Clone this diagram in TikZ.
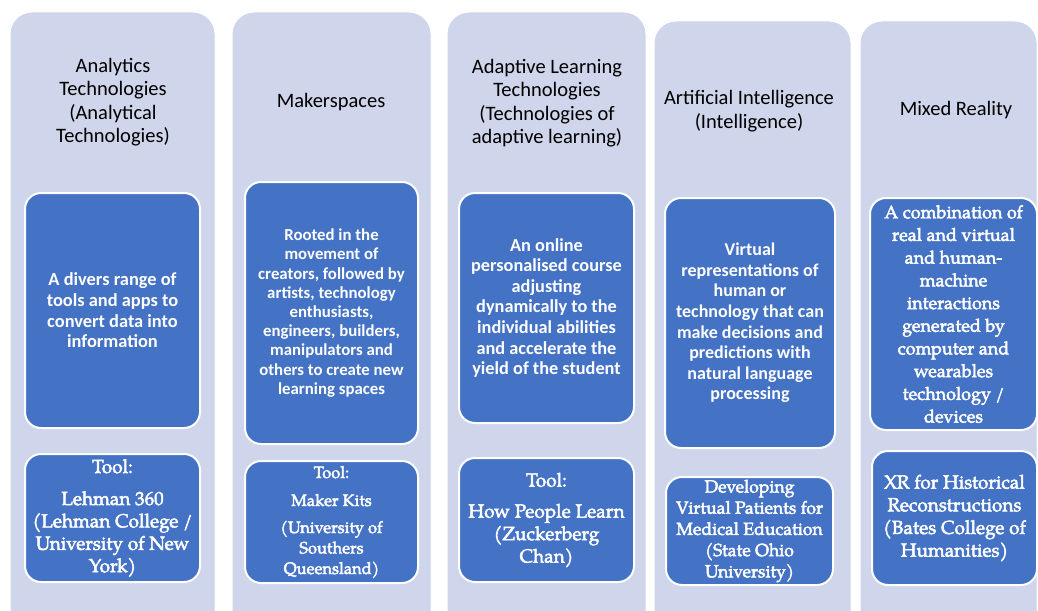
\documentclass[tikz,border=0pt]{standalone}
\usepackage{fontspec}
\setmainfont{Carlito}
\newfontfamily\pal[FakeBold=2.5]{TeX Gyre Pagella}
\definecolor{lav}{HTML}{CFD5EA}
\definecolor{blu}{HTML}{4472C4}
\tikzset{
  col/.style={fill=lav, draw=white, line width=1pt, rounded corners=22pt, inner sep=0pt},
  bluebox/.style={fill=blu, draw=white, line width=2pt, rounded corners=16pt, text=white, align=center, inner sep=0pt},
  ttl/.style={align=center, text=black, inner sep=0pt, font=\fontsize{20.5}{23.5}\selectfont},
}
\begin{document}
\begin{tikzpicture}[x=1pt,y=-1pt]
\useasboundingbox (0,0) rectangle (1038,610);
\clip (0,0) rectangle (1038,610);
% columns
\node[col, minimum width=205pt, minimum height=640pt] (c1) at (112.5,332) {};
\node[col, minimum width=199pt, minimum height=640pt] (c2) at (331.5,332) {};
\node[col, minimum width=199pt, minimum height=640pt] (c3) at (546.5,332) {};
\node[col, minimum width=197pt, minimum height=640pt] (c4) at (752.5,341) {};
\node[col, minimum width=177pt, minimum height=640pt] (c5) at (948.5,341) {};
% titles
\node[ttl] (t1) at (113,102) {Analytics\\Technologies\\(Analytical\\Technologies)};
\node[ttl] (t2) at (331,102) {Makerspaces};
\node[ttl] (t3) at (547,103) {Adaptive Learning\\Technologies\\(Technologies of\\adaptive learning)};
\node[ttl] (t4) at (749,111) {Artificial Intelligence\\(Intelligence)};
\node[ttl] (t5) at (956,110) {Mixed Reality};
% middle boxes
\node[bluebox, minimum width=175pt, minimum height=235pt, font=\bfseries\fontsize{18.4}{20.7}\selectfont] (m1) at (112.5,310.5)
  {A divers range of\\tools and apps to\\convert data into\\information};
\node[bluebox, minimum width=173pt, minimum height=262pt, font=\bfseries\fontsize{16.8}{19.2}\selectfont] (m2) at (331.5,313)
  {Rooted in the\\movement of\\creators, followed by\\artists, technology\\enthusiasts,\\engineers, builders,\\manipulators and\\others to create new\\learning spaces};
\node[bluebox, minimum width=175pt, minimum height=230pt, font=\bfseries\fontsize{18.3}{20.6}\selectfont] (m3) at (546.5,308)
  {An online\\personalised course\\adjusting\\dynamically to the\\individual abilities\\and accelerate the\\yield of the student};
\node[bluebox, minimum width=170pt, minimum height=250pt, font=\bfseries\fontsize{18}{20.6}\selectfont] (m4) at (750,323)
  {Virtual\\representations of\\human or\\technology that can\\make decisions and\\predictions with\\natural language\\processing};
\node[bluebox, minimum width=167pt, minimum height=232pt, font=\pal\fontsize{18}{22.7}\selectfont] (m5) at (953.5,314)
  {A combination of\\real and virtual\\and human-\\machine\\interactions\\generated by\\computer and\\wearables\\technology /\\devices};
% bottom boxes
\node[bluebox, minimum width=175pt, minimum height=128pt, font=\pal\fontsize{19}{22.4}\selectfont] (b1) at (112.5,518)
  {Tool:\\[9.6pt]Lehman 360\\(Lehman College /\\University of New\\York)};
\node[bluebox, minimum width=173pt, minimum height=122pt, font=\pal\fontsize{16.5}{20.5}\selectfont] (b2) at (331.5,522)
  {Tool:\\[7.5pt]Maker Kits\\[6.5pt](University of\\Southers\\Queensland)};
\node[bluebox, minimum width=175pt, minimum height=124pt, font=\pal\fontsize{19}{22.5}\selectfont] (b3) at (546.5,520)
  {Tool:\\[8.5pt]How People Learn\\(Zuckerberg\\Chan)};
\node[bluebox, minimum width=167pt, minimum height=108pt, font=\pal\fontsize{17.6}{21.2}\selectfont] (b4) at (749.5,531)
  {Developing\\Virtual Patients for\\Medical Education\\(State Ohio\\University)};
\node[bluebox, minimum width=165pt, minimum height=134pt, font=\pal\fontsize{19}{22.7}\selectfont] (b5) at (954.5,518)
  {XR for Historical\\Reconstructions\\(Bates College of\\Humanities)};
\end{tikzpicture}
\end{document}
